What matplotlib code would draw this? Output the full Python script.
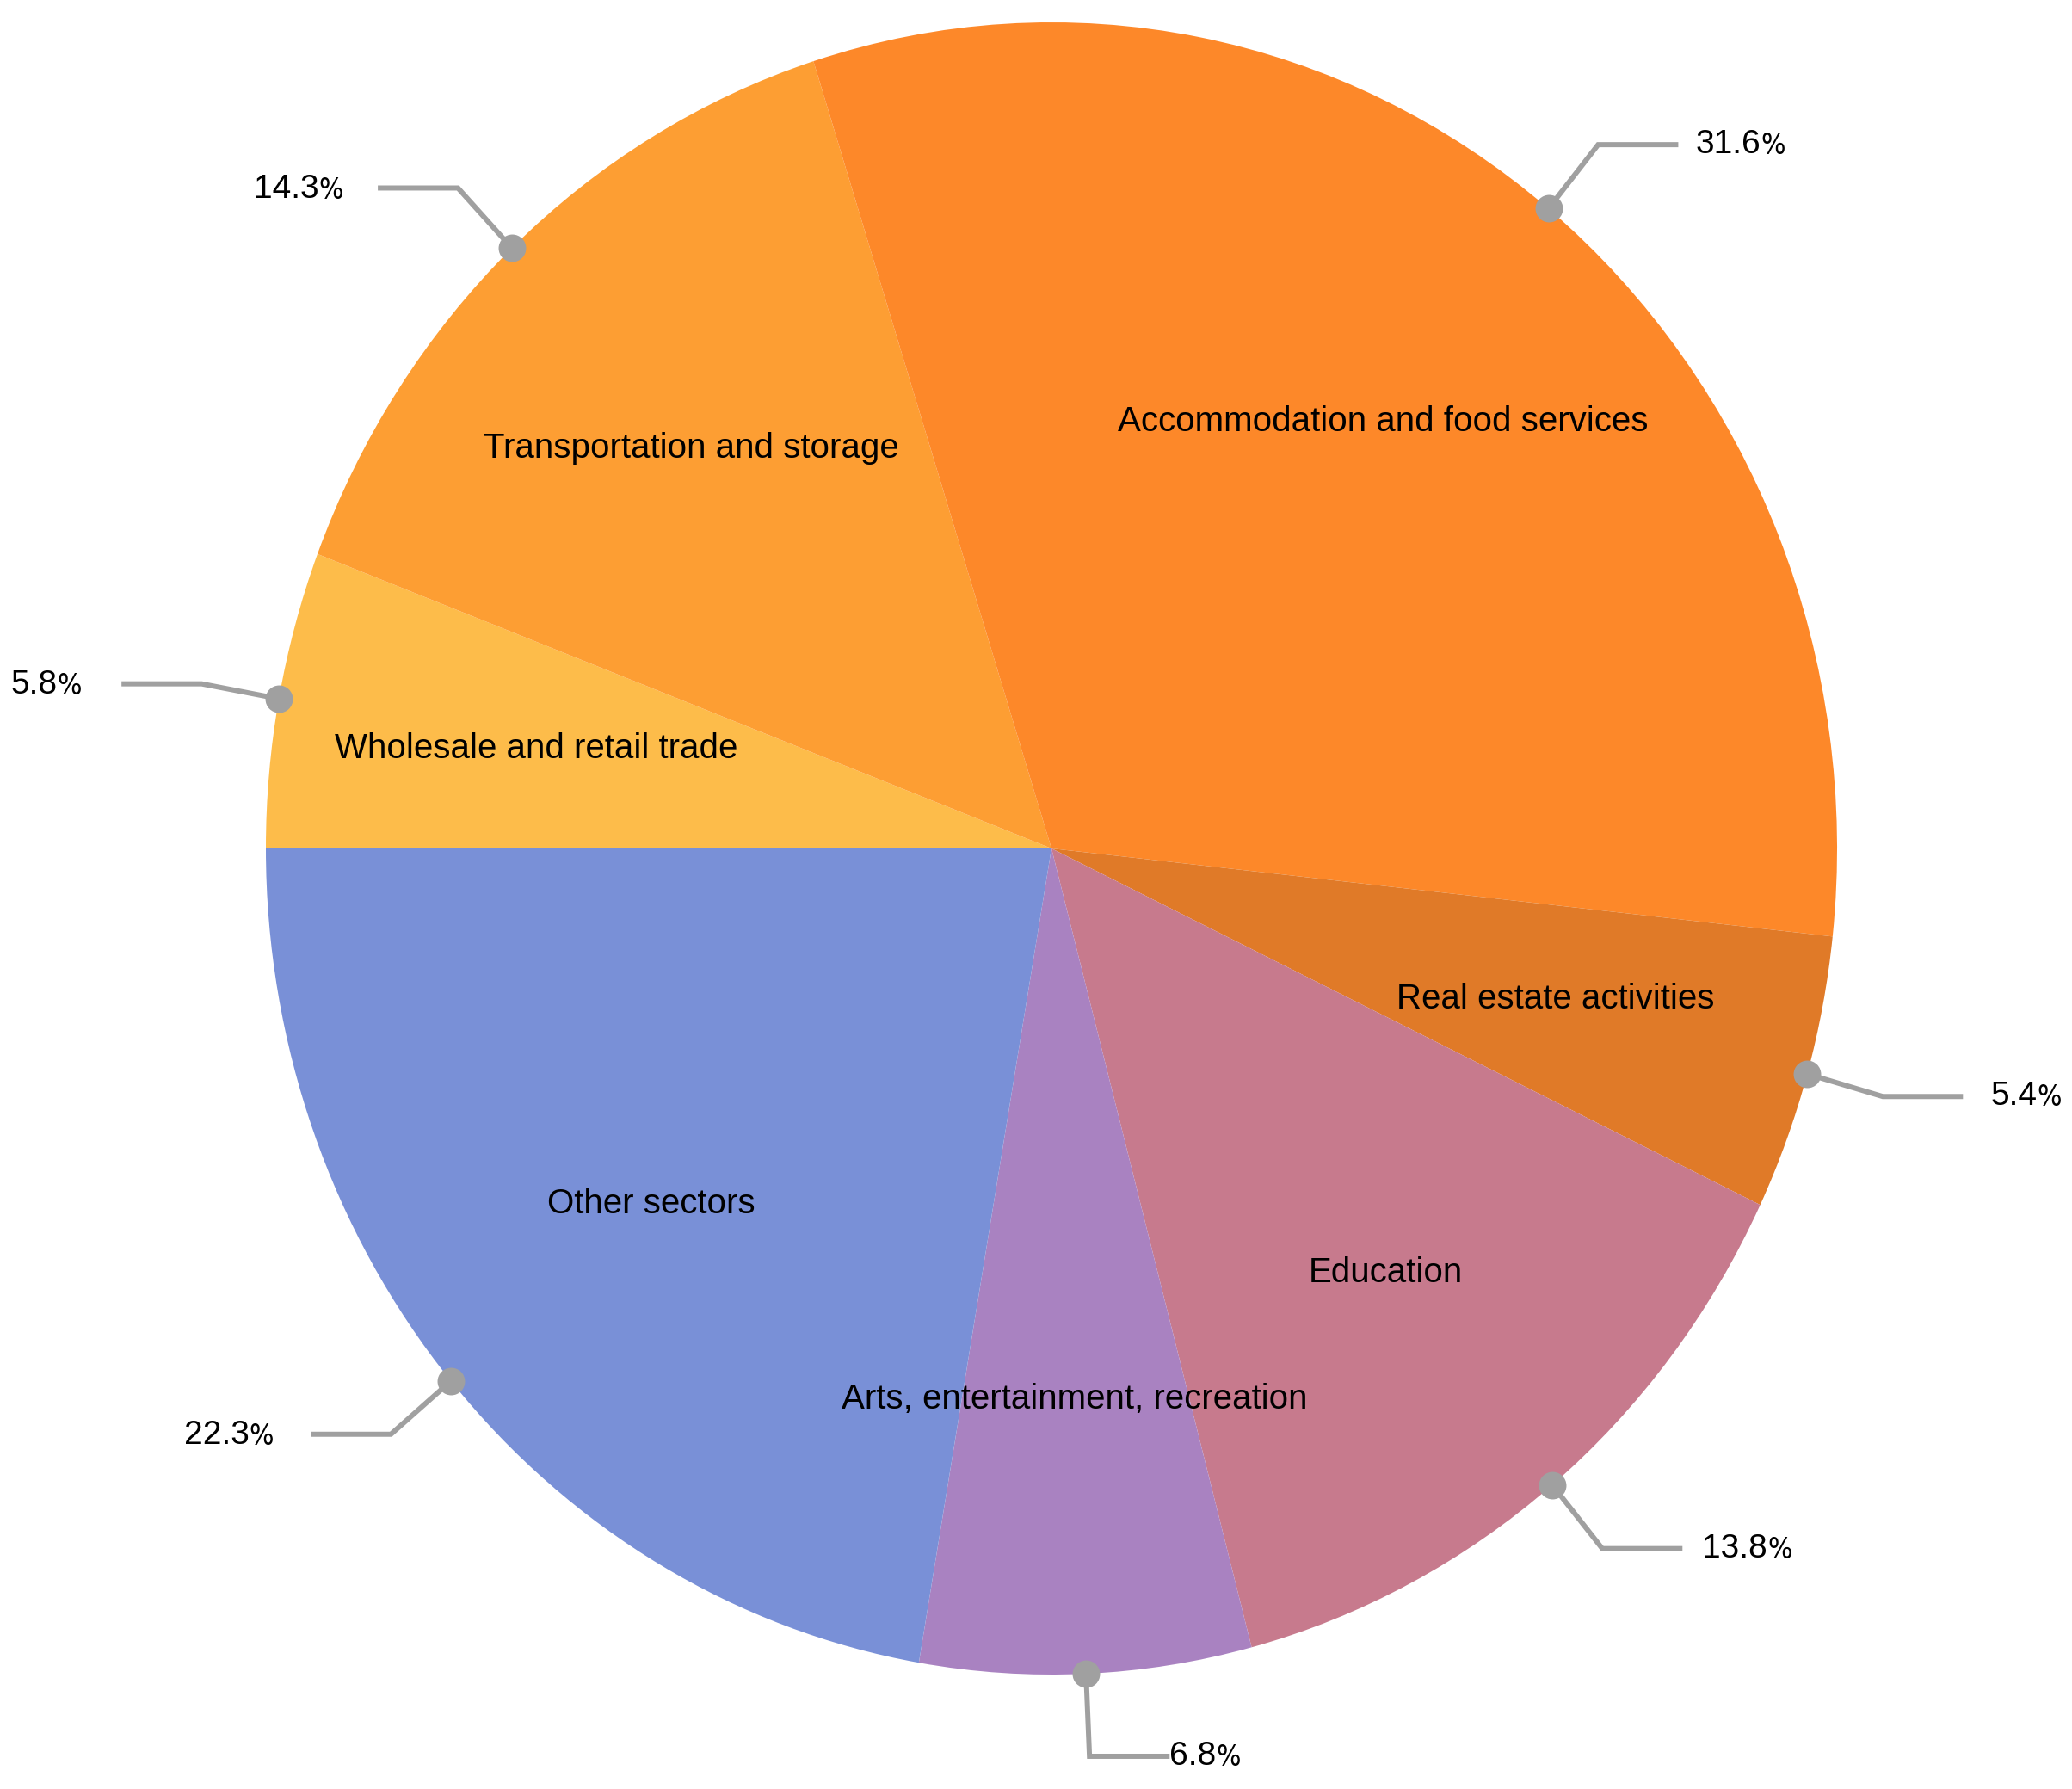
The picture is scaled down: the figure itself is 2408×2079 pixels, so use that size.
import matplotlib
matplotlib.use("Agg")
import matplotlib.pyplot as plt
import numpy as np

# ---- data ----
categories = ["Wholesale and retail trade", "Transportation and storage",
              "Accommodation and food services", "Real estate activities",
              "Education", "Arts, entertainment, recreation", "Other sectors"]
shares = [5.8, 14.3, 31.6, 5.4, 13.8, 6.8, 22.3]
pct_labels = ["5.8", "14.3", "31.6", "5.4", "13.8", "6.8", "22.3"]

# ---- style ----
colors = ["#FDBC4A", "#FD9E33", "#FD8829", "#E07A28", "#C77A8D", "#A982C1", "#7990D7"]
gaps_px = [46, 40, 20, 32, 23, 0, 43]
grey = "#A0A0A0"
FONT = ["Liberation Sans", "DejaVu Sans"]
NARROW = ["Liberation Sans Narrow", "DejaVu Sans"]

W, H = 2408, 2079
fig = plt.figure(figsize=(W / 100, H / 100), dpi=100)
fig.patch.set_facecolor("white")
ax = fig.add_axes([309 / W, (H - 1946) / H, 1826 / W, 1920 / H])

wedges, _ = ax.pie(shares, colors=colors, startangle=180, counterclock=False,
                   radius=1, center=(0, 0), wedgeprops=dict(linewidth=0))
ax.set_aspect("auto")
ax.set_xlim(-1, 1)
ax.set_ylim(-1, 1)
ax.axis("off")

for w, cat, lab, gap in zip(wedges, categories, pct_labels, gaps_px):
    mid = np.deg2rad((w.theta1 + w.theta2) / 2)
    c, s = np.cos(mid), np.sin(mid)
    # inner label
    ax.text(0.667 * c, 0.667 * s, cat, ha="center", va="center",
            fontsize=29, family=FONT, color="black")
    # leader line
    ex, ey = 1.1 * c, 1.1 * s
    sign = 1 if c > 0 else -1
    endx = ex + sign * 0.102
    ax.plot([c, ex, endx], [s, ey, ey], color=grey, lw=4.3,
            solid_joinstyle="miter", solid_capstyle="butt", clip_on=False, zorder=3)
    ax.plot([c], [s], "o", color=grey, ms=23, mec="none", clip_on=False, zorder=4)
    # percentage label
    pct_kw = dict(fontsize=24, family=NARROW, fontstretch="condensed",
                  fontweight="light", annotation_clip=False)
    if sign > 0:
        t = ax.annotate(lab, xy=(endx, ey), xytext=(gap, 0), textcoords="offset pixels",
                        ha="left", va="center", fontsize=28, family=FONT,
                        annotation_clip=False)
        ax.annotate("%", xy=(1, 0), xycoords=t, ha="left", va="bottom", **pct_kw)
    else:
        p = ax.annotate("%", xy=(endx, ey), xytext=(-gap, -3), textcoords="offset pixels",
                        ha="right", va="center", **pct_kw)
        ax.annotate(lab, xy=(0, 0), xycoords=p, ha="right", va="bottom",
                    fontsize=28, family=FONT, annotation_clip=False)

fig.savefig("out.png", dpi=100, facecolor="white")
